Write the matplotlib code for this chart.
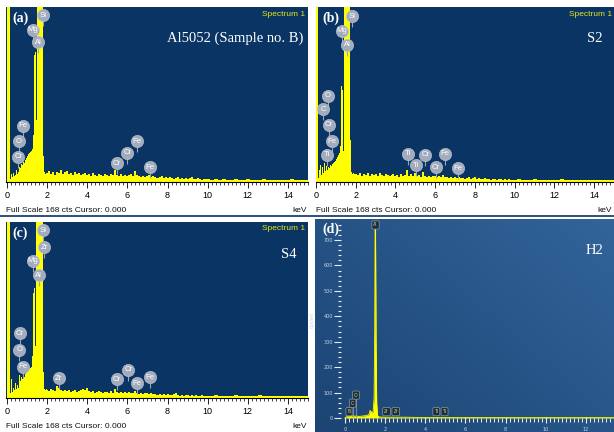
import numpy as np
import matplotlib
matplotlib.use("Agg")
import matplotlib.pyplot as plt
from matplotlib.colors import to_rgb

W, H = 614, 432
NAVY = '#0a3464'
YEL = '#ffff00'

# ---------------- data ----------------
# channel energies (keV) for panels a-c
energy_low = [0.00, 0.05, 0.10, 0.15, 0.20, 0.25, 0.30, 0.35, 0.40, 0.45,
              0.50, 0.55, 0.60, 0.65, 0.70, 0.75, 0.80, 0.85, 0.90, 0.95,
              1.00, 1.05, 1.10, 1.15, 1.20, 1.25, 1.30, 1.35, 1.40, 1.45,
              1.50, 1.55, 1.60, 1.65, 1.70, 1.75, 1.80, 1.85, 1.90, 1.95]
energy_mid = [2.0, 2.1, 2.2, 2.3, 2.4, 2.5, 2.6, 2.7, 2.8, 2.9,
              3.0, 3.1, 3.2, 3.3, 3.4, 3.5, 3.6, 3.7, 3.8, 3.9,
              4.0, 4.1, 4.2, 4.3, 4.4, 4.5, 4.6, 4.7, 4.8, 4.9,
              5.0, 5.1, 5.2, 5.3, 5.4, 5.5, 5.6, 5.7, 5.8, 5.9,
              6.0, 6.1, 6.2, 6.3, 6.4, 6.5, 6.6, 6.7, 6.8, 6.9,
              7.0, 7.1, 7.2, 7.3, 7.4, 7.5, 7.6, 7.7, 7.8, 7.9,
              8.0, 8.1, 8.2, 8.3, 8.4, 8.5, 8.6, 8.7, 8.8, 8.9,
              9.0, 9.1, 9.2, 9.3, 9.4, 9.5, 9.6, 9.7, 9.8, 9.9]
energy_high = [10.0, 10.2, 10.4, 10.6, 10.8, 11.0, 11.2, 11.4, 11.6, 11.8,
               12.0, 12.2, 12.4, 12.6, 12.8, 13.0, 13.2, 13.4, 13.6, 13.8,
               14.0, 14.2, 14.4, 14.6, 14.8, 15.0]

counts_a = [0, 200, 200, 3, 8, 5, 9, 6, 7, 12,
            8, 10, 14, 13, 17, 16, 19, 18, 21, 23,
            25, 27, 28, 29, 30, 32, 45, 122, 125, 60,
            200, 200, 200, 200, 200, 200, 25, 10, 8, 9,
            9, 11, 8, 10, 7, 10, 9, 12, 8, 10,
            11, 8, 9, 7, 10, 8, 9, 7, 8, 9,
            7, 8, 6, 9, 7, 6, 8, 7, 6, 8,
            7, 6, 8, 7, 12, 7, 6, 8, 6, 7,
            6, 7, 8, 6, 11, 7, 6, 5, 6, 5,
            6, 7, 5, 6, 5, 4, 5, 6, 4, 5,
            4, 5, 4, 3, 4, 5, 3, 4, 3, 4,
            3, 4, 5, 3, 3, 4, 3, 2, 3, 3,
            3, 2, 3, 2, 3, 2, 2, 3, 2, 2, 3, 2, 2, 2, 3, 2, 2, 2, 2, 2, 2, 3, 2, 2, 2, 2]

counts_b = [0, 200, 200, 4, 12, 16, 7, 14, 9, 18,
            11, 15, 12, 14, 13, 16, 15, 17, 18, 19,
            20, 22, 24, 26, 28, 35, 92, 88, 30, 200,
            200, 200, 200, 200, 200, 40, 10, 8, 9, 8,
            8, 7, 9, 6, 8, 7, 9, 6, 8, 7,
            8, 6, 9, 7, 6, 8, 7, 6, 7, 8,
            6, 7, 5, 8, 6, 7, 12, 6, 8, 6,
            9, 6, 7, 5, 10, 6, 5, 6, 5, 6,
            6, 5, 6, 5, 7, 5, 5, 4, 5, 4,
            5, 4, 5, 4, 4, 3, 4, 5, 3, 4,
            5, 3, 4, 3, 3, 4, 3, 3, 2, 3,
            3, 2, 3, 3, 2, 3, 2, 3, 2, 2,
            2, 3, 2, 2, 2, 3, 2, 2, 2, 2, 2, 2, 3, 2, 2, 2, 2, 2, 2, 2, 2, 2, 2, 2, 2, 2]

counts_c = [0, 200, 200, 5, 18, 6, 10, 8, 14, 9,
            12, 10, 22, 16, 20, 18, 21, 20, 23, 24,
            25, 26, 28, 29, 30, 40, 100, 105, 50, 200,
            200, 200, 200, 200, 200, 200, 25, 9, 8, 9,
            8, 7, 9, 8, 7, 11, 10, 8, 7, 8,
            7, 8, 6, 7, 8, 6, 7, 8, 9, 8,
            10, 7, 6, 7, 5, 6, 7, 6, 5, 6,
            6, 5, 7, 5, 9, 6, 5, 6, 5, 6,
            5, 6, 5, 5, 7, 5, 4, 5, 4, 5,
            5, 4, 5, 4, 4, 3, 4, 3, 4, 3,
            4, 3, 3, 4, 5, 3, 2, 3, 2, 3,
            3, 2, 3, 2, 3, 2, 2, 3, 2, 2,
            2, 2, 3, 2, 2, 2, 2, 3, 2, 2, 2, 2, 2, 3, 2, 2, 2, 2, 2, 2, 2, 2, 2, 2, 2, 2]

# panel d (counts per eV spectrum)
energy_d = [0.0, 0.1, 0.2, 0.3, 0.4, 0.5, 0.6, 0.7, 0.8, 0.9, 1.0, 1.1, 1.2,
            1.25, 1.3, 1.35, 1.4, 1.45, 1.48, 1.50, 1.52, 1.55, 1.58, 1.62,
            1.7, 2.0, 3.0, 4.0, 5.0, 6.0, 8.0, 10.0, 13.5]
counts_d = [0, 6, 8, 5, 9, 7, 8, 6, 7, 8, 9, 10, 15,
            30, 25, 20, 25, 80, 350, 760, 760, 300, 60, 10,
            4, 3, 3, 2, 2, 2, 2, 2, 2]

# element marker labels: (element, energy of marker, height in counts)
labels_a = [('Si', 1.80, 160), ('Mg', 1.30, 146), ('Al', 1.55, 134),
            ('Fe', 0.78, 54), ('O', 0.59, 39), ('Cr', 0.56, 24),
            ('Cr', 5.46, 18), ('Cr', 6.00, 28), ('Fe', 6.47, 39), ('Fe', 7.11, 14)]
labels_b = [('Si', 1.83, 159), ('Mg', 1.31, 145), ('Al', 1.58, 132),
            ('O', 0.61, 83), ('C', 0.37, 70), ('Cr', 0.65, 55), ('Fe', 0.81, 39),
            ('Ti', 0.53, 26), ('Ti', 4.62, 27), ('Ti', 5.03, 16), ('Cr', 5.51, 26),
            ('Cr', 6.03, 14), ('Fe', 6.51, 27), ('Fe', 7.13, 13)]
labels_c = [('Si', 1.80, 160), ('Zr', 1.85, 144), ('Mg', 1.30, 131), ('Al', 1.58, 117),
            ('Cr', 0.64, 62), ('O', 0.61, 46), ('Fe', 0.78, 30), ('Zr', 2.57, 19),
            ('Cr', 5.46, 18), ('Cr', 6.04, 27), ('Fe', 6.47, 14), ('Fe', 7.13, 20)]
labels_d = [('Al', 1.52, 759), ('O', 0.55, 90), ('C', 0.38, 58), ('B', 0.20, 25),
            ('Zr', 2.07, 25), ('Zr', 2.53, 25), ('Ti', 4.55, 25), ('Ti', 4.96, 25)]

x_major = [0, 2, 4, 6, 8, 10, 12, 14]
y_major_d = [0, 100, 200, 300, 400, 500, 600, 700]
x_major_d = [0, 2, 4, 6, 8, 10, 12]

# ---------------- helpers ----------------
def rect(l, t, r, b):
    return [l / W, 1 - b / H, (r - l) / W, (b - t) / H]

SANS = ['Liberation Sans', 'DejaVu Sans']
SERIF = ['Liberation Serif', 'DejaVu Serif']

fig = plt.figure(figsize=(W / 100, H / 100), dpi=100)
fig.patch.set_facecolor('white')

def px2fig(x, y):
    return x / W, 1 - y / H

def spectrum_panel(l, t, r, b, x0px, pxkev, counts, labels, tag, sample, sample_xy,
                   spec_right, kev_x):
    ax = fig.add_axes(rect(l, t, r, b))
    ax.set_facecolor(NAVY)
    energy = energy_low + energy_mid + energy_high
    ax.fill_between(energy, counts, step='mid', color=YEL, lw=0)
    ax.set_xlim((l - x0px) / pxkev, (r - x0px) / pxkev)
    ymax = 168
    ax.set_ylim(0, ymax)
    for s in ['left', 'right', 'top']:
        ax.spines[s].set_visible(False)
    ax.spines['bottom'].set_color('black')
    ax.spines['bottom'].set_linewidth(0.8)
    ax.set_yticks([])
    ax.set_xticks(x_major)
    ax.set_xticks([v / 5 for v in range(0, 76)], minor=True)
    ax.tick_params(axis='x', which='major', length=4, width=0.6, color='black',
                   labelsize=6.5, pad=2.5)
    ax.tick_params(axis='x', which='minor', length=2.2, width=0.5, color='black')
    for lab in ax.get_xticklabels():
        lab.set_family(SANS)
    k = ymax / (b - t)  # counts per pixel
    for el, e, c in labels:
        ax.plot([e, e], [c - 5.5 * k, c - 11 * k], color='#9aa4b4', lw=0.8,
                zorder=4, solid_capstyle='butt')
        ax.scatter([e], [c], s=78, color='#a2acbd', edgecolors='#c4ccd8',
                   linewidths=0.4, zorder=5, clip_on=False)
        ax.text(e, c, el, ha='center', va='center', fontsize=5.6, color='white',
                family=SANS, zorder=6)
    # texts
    fx, fy = px2fig(l + 6, t + 11)
    fig.text(fx, fy, tag, fontsize=10, fontweight='bold', color='white',
             family=SERIF, ha='left', va='center')
    fx, fy = px2fig(*sample_xy)
    fig.text(fx, fy, sample, fontsize=10.5, color='white', family=SERIF,
             ha='right', va='center')
    fx, fy = px2fig(spec_right, t + 7)
    fig.text(fx, fy, 'Spectrum 1', fontsize=6, color='#e6e619', family=SANS,
             ha='right', va='center')
    fx, fy = px2fig(l, b + 28)
    fig.text(fx, fy, 'Full Scale 168 cts Cursor: 0.000', fontsize=6,
             color='#111111', family=SANS, ha='left', va='center')
    fx, fy = px2fig(kev_x, b + 28)
    fig.text(fx, fy, 'keV', fontsize=6, color='#111111', family=SANS,
             ha='right', va='center')
    return ax

# (a)
spectrum_panel(6, 7, 308, 182, 7, 20.2, counts_a, labels_a, '(a)',
               'Al5052 (Sample no. B)', (303, 38), 305, 307)
# (b)
spectrum_panel(316, 7, 614, 182, 316, 20.07, counts_b, labels_b, '(b)',
               'S2', (603, 38), 612, 612)
# (c)
spectrum_panel(6, 222, 308, 398, 7, 20.2, counts_c, labels_c, '(c)',
               'S4', (297, 254), 305, 307)

# separator line
fig.add_artist(plt.Line2D([0, 1], [1 - 215.5 / H, 1 - 215.5 / H],
                          color=NAVY, lw=1.2, transform=fig.transFigure))

# (d) background gradient
axbg = fig.add_axes(rect(315, 219, 614, 432))
c0 = np.array(to_rgb('#1b4474'))
c1 = np.array(to_rgb('#32649a'))
gx = np.linspace(0, 1, 200)[None, :]
gy = np.linspace(0, 1, 150)[:, None]
tgrid = np.clip(0.55 * gx + 0.45 * (1 - gy), 0, 1)
img = c0[None, None, :] * (1 - tgrid[..., None]) + c1[None, None, :] * tgrid[..., None]
axbg.imshow(img, extent=[0, 1, 0, 1], aspect='auto', origin='upper')
axbg.set_axis_off()

# (d) data axes
x0d, pxd = 345, 20.17
y0d, pyd = 418, 178 / 700
l, t, r, b = 341, 220, 614, 420
axd = fig.add_axes(rect(l, t, r, b))
axd.patch.set_alpha(0)
axd.fill_between(energy_d, counts_d, color=YEL, lw=0)
axd.plot(energy_d, counts_d, color=YEL, lw=0.6)
axd.set_xlim((l - x0d) / pxd, (r - x0d) / pxd)
axd.set_ylim((y0d - b) / pyd, (y0d - t) / pyd)
for s in axd.spines.values():
    s.set_visible(False)
axd.set_yticks(y_major_d)
axd.set_yticks(list(range(0, 780, 20)), minor=True)
axd.set_xticks(x_major_d)
axd.set_xticks([v / 5 for v in range(0, 68)], minor=True)
axd.tick_params(axis='y', which='major', length=5, width=0.8, color='#e8eef5',
                labelsize=3.5, labelcolor='#c8d4e2', pad=1)
axd.tick_params(axis='y', which='minor', length=2, width=0.8, color='#e8eef5')
axd.tick_params(axis='x', which='major', length=4, width=0.8, color='#e8eef5',
                labelsize=3.5, labelcolor='#c8d4e2', pad=3, direction='inout')
axd.tick_params(axis='x', which='minor', length=2.5, width=0.7, color='#e8eef5',
                direction='inout')
axd.set_ylabel('cps/eV', fontsize=3.5, color='#c8d4e2', labelpad=6)
kd = 1 / pyd
for el, e, c in labels_d:
    if el in ('O', 'C'):
        axd.plot([e, e], [c - 4 * kd, 5], color='#9aa4b4', lw=0.5, zorder=4)
    axd.text(e, c, el, ha='center', va='center', fontsize=3.3, color='#e8e040',
             family=SANS, zorder=6, clip_on=False,
             bbox=dict(boxstyle='round,pad=0.35,rounding_size=0.3', fc='#1a2e44',
                       ec='#8c9aab', lw=0.5))
fx, fy = px2fig(322, 229)
fig.text(fx, fy, '(d)', fontsize=10, fontweight='bold', color='white',
         family=SERIF, ha='left', va='center')
fx, fy = px2fig(603, 251)
fig.text(fx, fy, 'H2', fontsize=10.5, color='white', family=SERIF,
         ha='right', va='center')

fig.savefig('out.png', dpi=100, facecolor='white')
